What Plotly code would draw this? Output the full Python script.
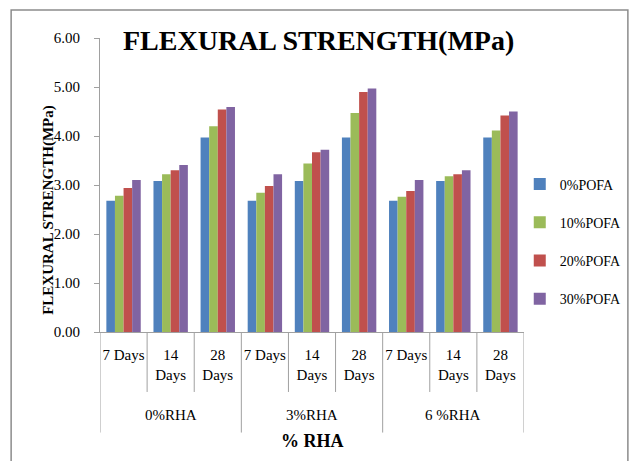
import plotly.graph_objects as go

# ---- data ----
groups = ["0%RHA", "3%RHA", "6 %RHA"]
ages = ["7 Days", "14<br>Days", "28<br>Days"]
series_names = ["0%POFA", "10%POFA", "20%POFA", "30%POFA"]
pofa_0 = [2.68, 3.08, 3.97, 2.68, 3.08, 3.97, 2.68, 3.08, 3.97]
pofa_10 = [2.78, 3.22, 4.20, 2.84, 3.44, 4.47, 2.76, 3.18, 4.11]
pofa_20 = [2.94, 3.30, 4.54, 2.98, 3.67, 4.90, 2.88, 3.22, 4.42]
pofa_30 = [3.10, 3.41, 4.59, 3.22, 3.72, 4.97, 3.10, 3.30, 4.50]
y_ticks = [0, 1, 2, 3, 4, 5, 6]

series_values = [pofa_0, pofa_10, pofa_20, pofa_30]
colors = ["#4F81BD", "#9BBB59", "#C0504D", "#8064A2"]

FONT = "Liberation Serif, Times New Roman, serif"

n_age = len(ages)
n_cat = len(groups) * n_age
x_idx = list(range(n_cat))
x_ticktext = [a for _ in groups for a in ages]

fig = go.Figure()
for name, vals, col in zip(series_names, series_values, colors):
    fig.add_trace(go.Bar(x=x_idx, y=vals, name=name, marker_color=col,
                         marker_line_width=0, legendgroup=name))

GRID = "#A0A0A0"
shapes = []
annotations = []
# separators: short between ages, long between groups
for k in range(n_cat + 1):
    xb = k - 0.5
    long_line = (k % n_age == 0)
    shapes.append(dict(type="line", xref="x", yref="paper",
                       x0=xb, x1=xb, y0=0,
                       y1=-0.342 if long_line else -0.204,
                       line=dict(color=GRID, width=1)))
# group labels
for gi, g in enumerate(groups):
    annotations.append(dict(text=g, xref="x", yref="paper",
                            x=gi * n_age + (n_age - 1) / 2,
                            y=(332 - 415) / 294, showarrow=False,
                            xanchor="center", yanchor="middle",
                            font=dict(family=FONT, size=15, color="black")))
# outer frame
shapes.append(dict(type="rect", xref="paper", yref="paper",
                   x0=-0.2096, x1=1.245, y0=-0.49, y1=1.095,
                   line=dict(color="#8C8C8C", width=1.5), layer="below"))

annotations += [
    dict(text="<b>FLEXURAL STRENGTH(MPa)</b>", xref="paper", yref="paper",
         x=(326 - 100) / 439, y=(332 - 40) / 294, showarrow=False,
         xanchor="center", yanchor="middle",
         font=dict(family=FONT, size=28, color="black")),
    dict(text="<b>FLEXURAL STRENGTH(MPa)</b>", xref="paper", yref="paper",
         x=(46 - 100) / 439, y=(332 - 210) / 294, showarrow=False,
         textangle=-90, xanchor="center", yanchor="middle",
         font=dict(family=FONT, size=15, color="black")),
    dict(text="<b>% RHA</b>", xref="paper", yref="paper",
         x=0.5, y=(332 - 441) / 294, showarrow=False,
         xanchor="center", yanchor="middle",
         font=dict(family=FONT, size=18, color="black")),
]

fig.update_layout(
    width=639, height=461,
    margin=dict(l=100, r=100, t=38, b=129),
    paper_bgcolor="white", plot_bgcolor="white",
    font=dict(family=FONT, color="black"),
    barmode="group", bargap=0.27, bargroupgap=0,
    showlegend=True,
    legend=dict(x=0.99, xanchor="left", y=(332 - 241.5) / 294, yanchor="middle",
                font=dict(family=FONT, size=14, color="black"),
                tracegroupgap=17, bgcolor="rgba(0,0,0,0)"),
    shapes=shapes,
    annotations=annotations,
)

fig.update_xaxes(range=[-0.5, n_cat - 0.5], tickvals=x_idx, ticktext=x_ticktext,
                 showline=True, linecolor=GRID, linewidth=1, ticks="",
                 showgrid=False, zeroline=False, tickangle=0,
                 ticklabelstandoff=9,
                 tickfont=dict(family=FONT, size=15, color="black"))
fig.update_yaxes(range=[0, 6], tickvals=y_ticks, tickformat=".2f",
                 ticks="outside", ticklen=5, tickcolor=GRID,
                 ticklabelstandoff=11,
                 showline=True, linecolor=GRID, linewidth=1,
                 showgrid=False, zeroline=False,
                 tickfont=dict(family=FONT, size=15, color="black"))

fig.write_html("out.html")
